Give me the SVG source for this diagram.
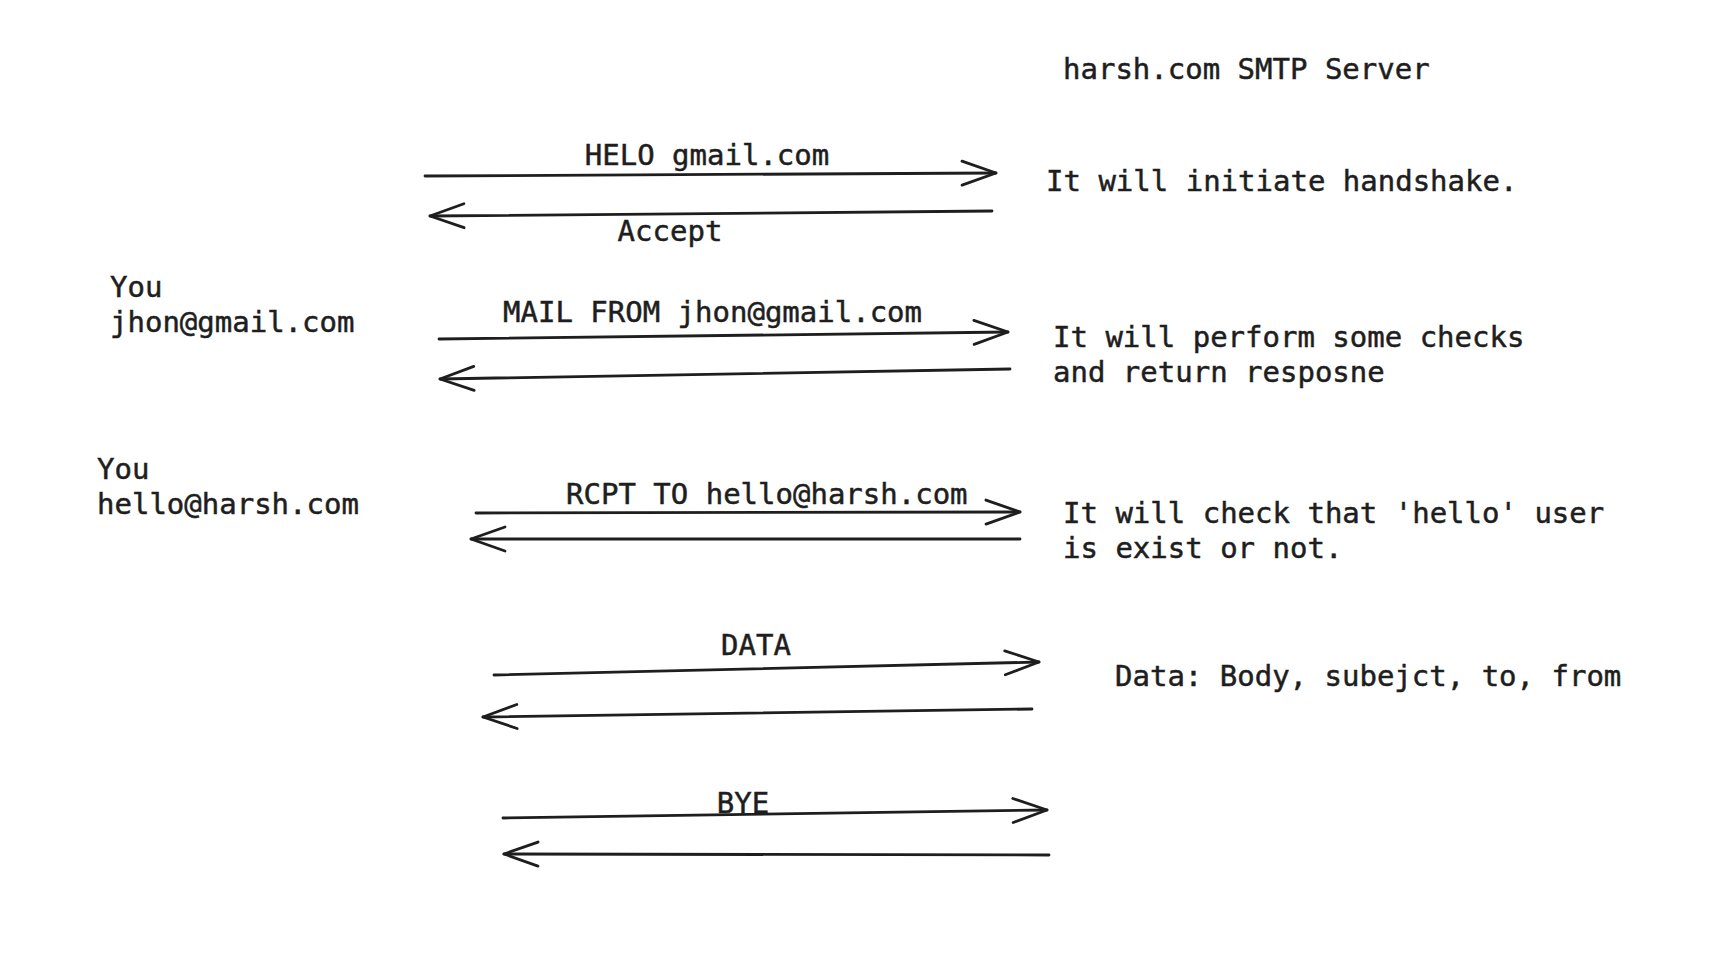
<svg xmlns="http://www.w3.org/2000/svg" width="1718" height="956" viewBox="0 0 1718 956">
<defs>
<style>
text{font-family:"DejaVu Sans Mono","Liberation Mono",monospace;font-size:29px;fill:#1e1e1e;stroke:#1e1e1e;stroke-width:0.5}
.c{text-anchor:middle}
.ln{fill:none;stroke:#1e1e1e;stroke-width:2.8;stroke-linecap:round;stroke-linejoin:round}
</style>
<marker id="ah" viewBox="-38 -16 42 32" markerWidth="42" markerHeight="32" refX="0" refY="0" orient="auto" markerUnits="userSpaceOnUse">
<path d="M-34,-12 L0,0 L-34,12" fill="none" stroke="#1e1e1e" stroke-width="2.8" stroke-linecap="round" stroke-linejoin="round"/>
</marker>
</defs>
<rect width="1718" height="956" fill="#ffffff"/>
<g id="server"><text x="1063" y="79">harsh.com SMTP Server</text></g>
<g id="you1"><text x="110" y="297">You</text><text x="110" y="332">jhon@gmail.com</text></g>
<g id="you2"><text x="97" y="479">You</text><text x="97" y="514">hello@harsh.com</text></g>
<g id="note1"><text x="1046" y="191">It will initiate handshake.</text></g>
<g id="note2"><text x="1053" y="347">It will perform some checks</text><text x="1053" y="382">and return resposne</text></g>
<g id="note3"><text x="1063" y="523">It will check that 'hello' user</text><text x="1063" y="558">is exist or not.</text></g>
<g id="note4"><text x="1115" y="686">Data: Body, subejct, to, from</text></g>
<g id="connectors">
<path class="ln" d="M425,176 L996,173" marker-end="url(#ah)"/>
<path class="ln" d="M992,211 L430,216" marker-end="url(#ah)"/>
<path class="ln" d="M439,339 L1008,332" marker-end="url(#ah)"/>
<path class="ln" d="M1010,369 L440,379" marker-end="url(#ah)"/>
<path class="ln" d="M476,513 L1020,512" marker-end="url(#ah)"/>
<path class="ln" d="M1020,539 L471,539" marker-end="url(#ah)"/>
<path class="ln" d="M494,675 L1039,662" marker-end="url(#ah)"/>
<path class="ln" d="M1032,709 L483,717" marker-end="url(#ah)"/>
<path class="ln" d="M503,818 L1047,810" marker-end="url(#ah)"/>
<path class="ln" d="M1049,855 L504,854" marker-end="url(#ah)"/>
<text class="c" x="707" y="165">HELO gmail.com</text>
<text class="c" x="670" y="241">Accept</text>
<text x="503" y="322">MAIL FROM jhon@gmail.com</text>
<text x="566" y="504">RCPT TO hello@harsh.com</text>
<text class="c" x="756" y="655">DATA</text>
<text class="c" x="743" y="813">BYE</text>
</g>
</svg>
